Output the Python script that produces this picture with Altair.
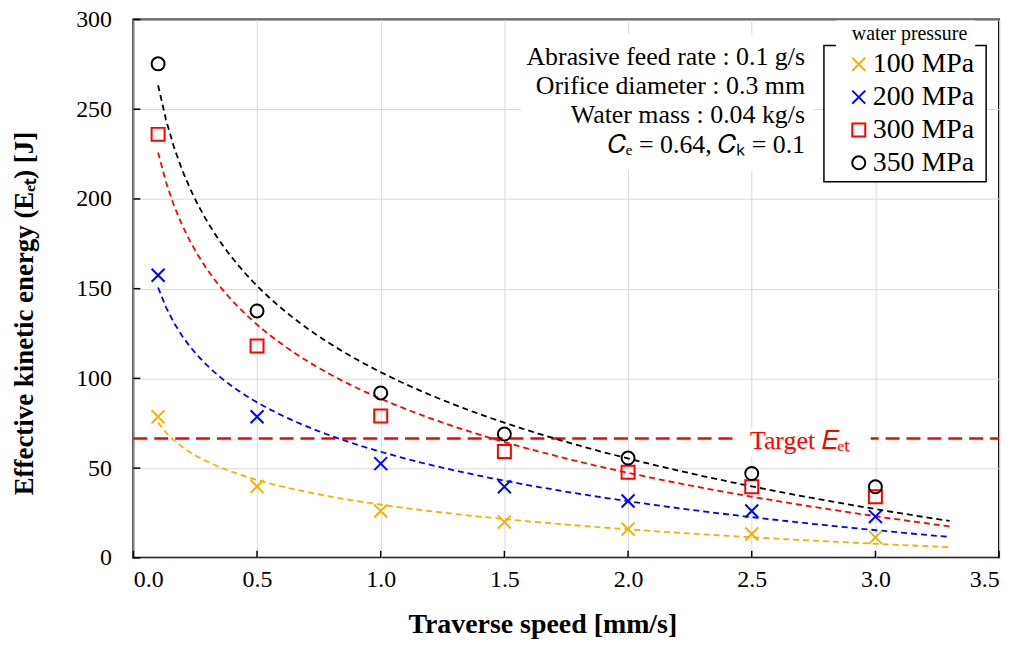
import altair as alt
import pandas as pd

# ---------------- data ----------------
speeds = [0.1, 0.5, 1.0, 1.5, 2.0, 2.5, 3.0]
e_100 = [78.6, 39.8, 26.1, 20.0, 16.0, 13.3, 11.4]
e_200 = [157.5, 78.6, 52.5, 39.6, 31.7, 26.1, 23.0]
e_300 = [236.0, 118.0, 79.0, 59.3, 47.7, 39.6, 34.0]
e_350 = [275.3, 137.6, 91.9, 69.0, 55.6, 47.0, 39.6]
series_names = ["100 MPa", "200 MPa", "300 MPa", "350 MPa"]
series_colors = ["#F0B400", "#0000FF", "#FF0000", "#000000"]
target_value = 66.5
x_ticks = [0.0, 0.5, 1.0, 1.5, 2.0, 2.5, 3.0, 3.5]
y_ticks = [0, 50, 100, 150, 200, 250, 300]
annotation_lines = [
    "Abrasive feed rate : 0.1 g/s",
    "Orifice diameter : 0.3 mm",
    "Water mass : 0.04 kg/s",
    "\U0001D436\u2091 = 0.64, \U0001D436\u2096 = 0.1",
]
target_label = "Target \U0001D438\u2091\u209C"

rows = []
for name, vals in zip(series_names, [e_100, e_200, e_300, e_350]):
    for s, v in zip(speeds, vals):
        rows.append({"speed": s, "energy": v, "pressure": name})
df = pd.DataFrame(rows)

# ---------------- style ----------------
FONT = "Liberation Serif"
W, H = 870, 541
X_PATH = "M-1,-1L1,1M-1,1L1,-1"

xscale = alt.Scale(domain=[0, 3.5], nice=False, zero=False)
yscale = alt.Scale(domain=[0, 300], nice=False)

x_enc = alt.X(
    "speed:Q", scale=xscale,
    axis=alt.Axis(values=x_ticks, format=".1f", title="Traverse speed [mm/s]",
                  labelPadding=10, titleX=411, titleY=75,
                  titleBaseline="alphabetic", titleAlign="center"),
)
y_enc = alt.Y(
    "energy:Q", scale=yscale,
    axis=alt.Axis(values=y_ticks, title="Effective kinetic energy (E\u2091\u209C) [J]",
                  labelPadding=22, titleX=-109, titleY=295, titleAngle=270,
                  titleFontSize=27, titleBaseline="middle", titleAlign="center"),
)

one = pd.DataFrame({"a": [0]})


def px_rect(x1, x2, y1, y2, **kw):
    return alt.Chart(one).mark_rect(**kw).encode(
        x=alt.value(x1), x2=alt.value(x2), y=alt.value(y1), y2=alt.value(y2)
    )


annot_bg = px_rect(390, 684, 15, 152, fill="white")
legend_bg = px_rect(694, 857, 26, 163, fill="white", stroke="black", strokeWidth=1.5)
legend_title_gap = px_rect(706, 846, 1, 32, fill="white")
target_bg = px_rect(603, 741, 410, 440, fill="white")

target_rule = alt.Chart(pd.DataFrame({"energy": [target_value]})).mark_rule(
    color="#FF0000", strokeWidth=2.5, strokeDash=[14, 7]
).encode(y=y_enc, x=alt.value(0), x2=alt.value(W))

trend_layers = []
for name, col in zip(series_names, series_colors):
    trend_layers.append(
        alt.Chart(df).transform_filter(alt.datum.pressure == name).transform_regression(
            "speed", "energy", method="log", extent=[0.1, 3.3]
        ).mark_line(strokeDash=[6, 4], strokeWidth=1.8, color=col).encode(x=x_enc, y=y_enc)
    )

legend_cfg = dict(
    orient="none", legendX=715, legendY=5, title="water pressure",
    titleFont=FONT, titleFontSize=20, titleFontWeight="normal", titleColor="black",
    titleAnchor="middle", titlePadding=6, labelFont=FONT, labelFontSize=28,
    labelColor="black", symbolSize=170, symbolStrokeWidth=2, rowPadding=5,
    labelOffset=0, padding=0,
)

points = alt.Chart(df).mark_point(filled=False, strokeWidth=2, size=170, opacity=1).encode(
    x=x_enc, y=y_enc,
    color=alt.Color("pressure:N", scale=alt.Scale(domain=series_names, range=series_colors),
                    legend=alt.Legend(**legend_cfg)),
    shape=alt.Shape("pressure:N",
                    scale=alt.Scale(domain=series_names,
                                    range=[X_PATH, X_PATH, "square", "circle"]),
                    legend=alt.Legend(**legend_cfg)),
)

x_tick_marks = alt.Chart(pd.DataFrame({"speed": x_ticks})).mark_rule(
    color="black", strokeWidth=1.5
).encode(x=x_enc, y=alt.value(H), y2=alt.value(H - 7))

y_tick_marks = alt.Chart(pd.DataFrame({"energy": y_ticks})).mark_rule(
    color="black", strokeWidth=1.5
).encode(y=y_enc, x=alt.value(0), x2=alt.value(7))

annot_layers = []
for i, line in enumerate(annotation_lines):
    annot_layers.append(
        alt.Chart(one).mark_text(
            text=line, align="right", baseline="alphabetic", font=FONT,
            fontSize=26, color="black"
        ).encode(x=alt.value(675), y=alt.value([46, 75, 104, 134][i]))
    )

target_text = alt.Chart(pd.DataFrame({"energy": [target_value]})).mark_text(
    text=target_label, align="center", baseline="middle", dy=3, font=FONT,
    fontSize=26, color="#FF0000"
).encode(y=y_enc, x=alt.value(670))

chart = alt.layer(
    annot_bg, legend_bg, legend_title_gap,
    target_rule, target_bg, *trend_layers, points, x_tick_marks, y_tick_marks,
    *annot_layers, target_text,
).properties(
    width=W, height=H,
    background="white",
    padding={"left": 126, "top": 10, "right": 14, "bottom": 82},
    autosize=alt.AutoSizeParams(type="none"),
).configure_view(
    stroke="black", strokeWidth=2
).configure_axis(
    labelFont=FONT, labelFontSize=24, labelColor="black",
    titleFont=FONT, titleFontSize=28, titleFontWeight="bold", titleColor="black",
    gridColor="#d9d9d9", gridWidth=1, domain=False, ticks=False,
)

chart.save("out.html", embed_options={"renderer": "svg", "actions": False})
